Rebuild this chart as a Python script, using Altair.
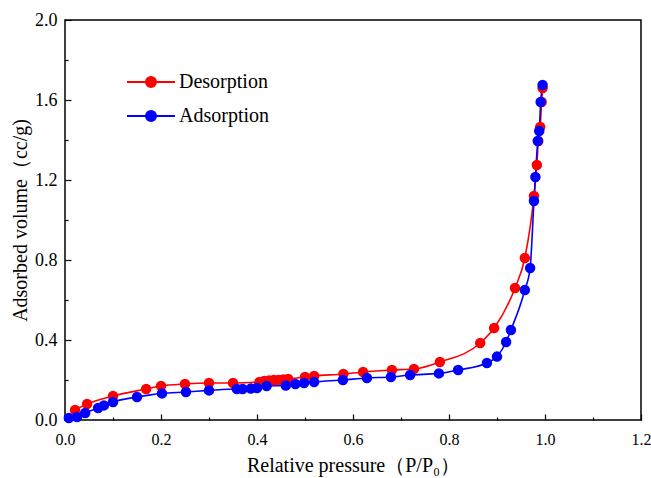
import altair as alt
import pandas as pd

# Desorption branch (red)
x_des = [0.021, 0.046, 0.100, 0.169, 0.200, 0.250, 0.300, 0.350, 0.405, 0.415,
         0.425, 0.435, 0.445, 0.455, 0.465, 0.500, 0.519, 0.580, 0.621, 0.681,
         0.727, 0.781, 0.865, 0.894, 0.9375, 0.958, 0.977, 0.983, 0.986, 0.990,
         0.993, 0.995]
y_des = [0.05, 0.08, 0.12, 0.155, 0.17, 0.18, 0.185, 0.185, 0.19, 0.195,
         0.197, 0.20, 0.20, 0.203, 0.205, 0.215, 0.22, 0.23, 0.24, 0.25,
         0.255, 0.29, 0.385, 0.46, 0.66, 0.81, 1.12, 1.275, 1.395, 1.465,
         1.59, 1.66]

# Adsorption branch (blue)
x_ads = [0.008, 0.025, 0.042, 0.069, 0.081, 0.100, 0.150, 0.202, 0.252, 0.300,
         0.358, 0.370, 0.387, 0.400, 0.420, 0.460, 0.480, 0.498, 0.519, 0.579,
         0.629, 0.679, 0.719, 0.779, 0.819, 0.879, 0.900, 0.919, 0.929, 0.958,
         0.969, 0.977, 0.980, 0.985, 0.988, 0.991, 0.995]
y_ads = [0.01, 0.015, 0.035, 0.06, 0.073, 0.09, 0.115, 0.133, 0.14, 0.148,
         0.155, 0.155, 0.157, 0.16, 0.17, 0.172, 0.18, 0.185, 0.19, 0.20,
         0.21, 0.215, 0.225, 0.233, 0.25, 0.285, 0.317, 0.39, 0.45, 0.65,
         0.76, 1.095, 1.215, 1.395, 1.445, 1.59, 1.675]

series_names = ["Desorption", "Adsorption"]
series_colors = ["#ff0000", "#0000ff"]

x_major = [0.0, 0.2, 0.4, 0.6, 0.8, 1.0, 1.2]
x_minor = [0.1, 0.3, 0.5, 0.7, 0.9, 1.1]
y_major = [0.0, 0.4, 0.8, 1.2, 1.6, 2.0]
y_minor = [0.2, 0.6, 1.0, 1.4, 1.8]

df = pd.concat([
    pd.DataFrame({"x": x_des, "y": y_des, "series": series_names[0], "ord": 0}),
    pd.DataFrame({"x": x_ads, "y": y_ads, "series": series_names[1], "ord": 1}),
], ignore_index=True)

FONT = "Liberation Serif"
xscale = alt.Scale(domain=[0, 1.2], nice=False, zero=False)
yscale = alt.Scale(domain=[0, 2.0], nice=False, zero=False)
cscale = alt.Scale(domain=series_names, range=series_colors)

legend_path = ("M-2,0H2M0.42,0A0.42,0.42 0 1,1 -0.42,0"
               "A0.42,0.42 0 1,1 0.42,0Z")
legend = alt.Legend(
    title=None, orient="none", legendX=73, legendY=49,
    symbolType=legend_path, symbolSize=576, symbolStrokeWidth=2,
    labelFont=FONT, labelFontSize=20, labelColor="black",
    labelOffset=15, rowPadding=11,
)

minor_x_axis = alt.Axis(values=x_minor, orient="bottom", labels=False, title=None,
                        domain=False, grid=False, ticks=True, tickSize=3,
                        offset=-3, tickColor="black", tickWidth=1.2)
minor_y_axis = alt.Axis(values=y_minor, orient="left", labels=False, title=None,
                        domain=False, grid=False, ticks=True, tickSize=3,
                        offset=-3, tickColor="black", tickWidth=1.2)

major_x_axis = alt.Axis(values=x_major, orient="bottom", format=".1f",
                        title="Relative pressure（P/P₀）",
                        domain=False, grid=False, tickSize=6, offset=-6,
                        tickColor="black", tickWidth=1.2, labelFlush=False,
                        labelPadding=11, labelFont=FONT, labelFontSize=16,
                        labelColor="black", titleFont=FONT, titleFontSize=20,
                        titleFontWeight="normal", titleColor="black",
                        titlePadding=8)
major_y_axis = alt.Axis(values=y_major, orient="left", format=".1f",
                        title="Adsorbed volume（cc/g)",
                        domain=False, grid=False, tickSize=6, offset=-6,
                        tickColor="black", tickWidth=1.2, labelFlush=False,
                        labelPadding=8, labelFont=FONT, labelFontSize=18,
                        labelColor="black", titleFont=FONT, titleFontSize=20,
                        titleFontWeight="normal", titleColor="black",
                        titlePadding=4)

lines = alt.Chart(df).mark_line(interpolate="monotone", strokeWidth=1.6).encode(
    x=alt.X("x:Q", scale=xscale, axis=minor_x_axis),
    y=alt.Y("y:Q", scale=yscale, axis=minor_y_axis),
    stroke=alt.Stroke("series:N", scale=cscale, legend=legend),
    detail="series:N",
    order="x:Q",
)

points = alt.Chart(df).mark_circle(size=72, opacity=1).encode(
    x=alt.X("x:Q", scale=xscale, axis=major_x_axis),
    y=alt.Y("y:Q", scale=yscale, axis=major_y_axis),
    fill=alt.Fill("series:N", scale=cscale, legend=legend),
    stroke=alt.Stroke("series:N", scale=cscale, legend=legend),
    order="ord:Q",
)

chart = alt.layer(lines, points).resolve_axis(
    x="independent", y="independent"
).properties(
    width=576, height=400,
    autosize=alt.AutoSizeParams(type="none"),
    padding={"left": 65, "top": 20, "right": 10, "bottom": 58},
    background="white",
).configure_view(
    stroke="black", strokeWidth=1.5
)

chart.save("out.html", embed_options={"renderer": "svg", "actions": False})
